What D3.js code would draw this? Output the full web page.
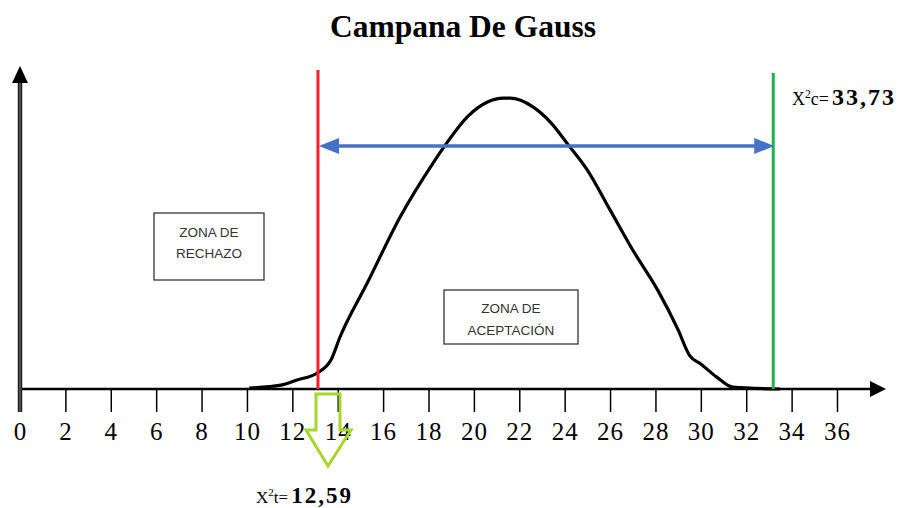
<!DOCTYPE html>
<html><head><meta charset="utf-8">
<script src="https://cdn.jsdelivr.net/npm/d3@7"></script>
<style>
html,body{margin:0;padding:0;background:#fff;}
svg{display:block;}
</style></head>
<body>
<svg id="chart" width="904" height="508"></svg>
<script>
// ---- data ----
const title = "Campana De Gauss";
const tickValues = [0,2,4,6,8,10,12,14,16,18,20,22,24,26,28,30,32,34,36];
const curveX = [10.1, 11.5, 12.2, 13.1, 13.7, 14.1, 15.3, 16.75, 18.2, 18.8, 19.7, 20.6, 21.3, 21.6, 22.6, 23.4, 24.1, 25.0, 26.0, 27.0, 28.1, 29.0, 29.5, 30.0, 30.7, 31.4, 33.5];
const curveY = [0.003, 0.012, 0.028, 0.05, 0.09, 0.162, 0.33, 0.536, 0.704, 0.766, 0.847, 0.894, 0.906, 0.906, 0.879, 0.829, 0.766, 0.682, 0.558, 0.433, 0.308, 0.184, 0.105, 0.078, 0.037, 0.006, 0.0];
const criticalTable = 13.13;   // red line position as drawn
const criticalCalc = 33.19;    // green line position as drawn
const labelTable = ["X", "2", "t=", "12,59"];
const labelCalc = ["X", "2", "c=", "33,73"];
const zoneReject = ["ZONA DE", "RECHAZO"];
const zoneAccept = ["ZONA DE", "ACEPTACIÓN"];

// ---- scales ----
const svg = d3.select("#chart");
const x = d3.scaleLinear().domain([0, 36]).range([20, 837]);
const y = d3.scaleLinear().domain([0, 1]).range([389, 68]);
const x0 = x(0), y0 = y(0);

// title
svg.append("text").attr("x", 463).attr("y", 37).attr("text-anchor", "middle")
  .attr("font-family", "Liberation Serif, Times New Roman, serif")
  .attr("font-weight", "bold").attr("font-size", 31.5).attr("fill", "#000").text(title);

// x axis with ticks
const axis = d3.axisBottom(x).tickValues(tickValues).tickSize(23).tickFormat(d3.format("d"));
const gx = svg.append("g").attr("transform", `translate(0,${y0})`).call(axis);
gx.select(".domain").remove();
gx.selectAll(".tick line").attr("stroke", "#000").attr("stroke-width", 1.5);
gx.selectAll(".tick text").attr("font-family", "Liberation Serif, Times New Roman, serif")
  .attr("font-size", 25).attr("fill", "#000").attr("y", 51).attr("dy", 0).attr("letter-spacing", 1);

// x axis line + arrow
svg.append("line").attr("x1", x0).attr("x2", 872).attr("y1", y0).attr("y2", y0)
  .attr("stroke", "#000").attr("stroke-width", 2.5);
svg.append("path").attr("d", `M870,${y0-8} L886,${y0} L870,${y0+8} Z`).attr("fill", "#000");

// y axis (double line) + arrow
svg.append("line").attr("x1", x0).attr("x2", x0).attr("y1", 82).attr("y2", 412)
  .attr("stroke", "#222").attr("stroke-width", 4.5);
svg.append("line").attr("x1", x0).attr("x2", x0).attr("y1", 82).attr("y2", 412)
  .attr("stroke", "#777").attr("stroke-width", 1);
svg.append("path").attr("d", `M${x0-8},83 L${x0},66 L${x0+8},83 Z`).attr("fill", "#000");

// bell curve
const pts = curveX.map((v, i) => [v, curveY[i]]);
const line = d3.line().x(d => x(d[0])).y(d => y(d[1])).curve(d3.curveMonotoneX);
svg.append("path").datum(pts).attr("d", line).attr("fill", "none")
  .attr("stroke", "#000").attr("stroke-width", 3.2).attr("stroke-linejoin", "round");

// red and green vertical lines
svg.append("line").attr("x1", x(criticalTable)).attr("x2", x(criticalTable)).attr("y1", 70).attr("y2", y0)
  .attr("stroke", "#f0212b").attr("stroke-width", 3);
svg.append("line").attr("x1", x(criticalCalc)).attr("x2", x(criticalCalc)).attr("y1", 73).attr("y2", y0)
  .attr("stroke", "#22b14c").attr("stroke-width", 3);

// blue double arrow
const ay = 146, ax1 = x(criticalTable) + 1, ax2 = x(criticalCalc) + 1;
svg.append("line").attr("x1", ax1 + 15).attr("x2", ax2 - 15).attr("y1", ay).attr("y2", ay)
  .attr("stroke", "#4472c4").attr("stroke-width", 3.5);
svg.append("path").attr("d", `M${ax1},${ay} L${ax1+20},${ay-8} L${ax1+20},${ay+8} Z`).attr("fill", "#4472c4");
svg.append("path").attr("d", `M${ax2},${ay} L${ax2-20},${ay-8} L${ax2-20},${ay+8} Z`).attr("fill", "#4472c4");

// lime down arrow below the red line
const cx = x(criticalTable) + 10;
svg.append("path")
  .attr("d", `M${cx-12},394 L${cx+12},394 L${cx+12},430 L${cx+23},430 L${cx},466 L${cx-22},430 L${cx-12},430 Z`)
  .attr("fill", "none").attr("stroke", "#a5d62c").attr("stroke-width", 3).attr("stroke-linejoin", "miter");

// chi-square labels
function chiLabel(lbl, xx, yy, small, big) {
  const t = svg.append("text").attr("x", xx).attr("y", yy)
    .attr("font-family", "Liberation Serif, Times New Roman, serif").attr("fill", "#000");
  t.append("tspan").attr("font-size", small).text(lbl[0]);
  t.append("tspan").attr("font-size", small * 0.65).attr("dy", -small * 0.4).text(lbl[1]);
  t.append("tspan").attr("font-size", small).attr("dy", small * 0.4).text(lbl[2]);
  t.append("tspan").attr("font-size", big).attr("font-weight", "bold").attr("dx", 3)
    .attr("letter-spacing", 2).text(lbl[3]);
}
chiLabel(labelCalc, 792, 105, 18, 24);
chiLabel(labelTable, 256, 503, 17, 23);

// zone boxes
function zoneBox(lines, x1, y1, x2, y2, ty) {
  svg.append("rect").attr("x", x1).attr("y", y1).attr("width", x2 - x1).attr("height", y2 - y1)
    .attr("fill", "#fff").attr("stroke", "#333").attr("stroke-width", 1.3);
  lines.forEach((s, i) => {
    svg.append("text").attr("x", (x1 + x2) / 2).attr("y", ty[i]).attr("text-anchor", "middle")
      .attr("font-family", "Liberation Sans, Arial, sans-serif").attr("font-size", 13.5)
      .attr("fill", "#333").text(s);
  });
}
zoneBox(zoneReject, 154, 213, 264, 280, [237, 258]);
zoneBox(zoneAccept, 444, 290, 578, 344, [313, 335]);
</script>
</body></html>
